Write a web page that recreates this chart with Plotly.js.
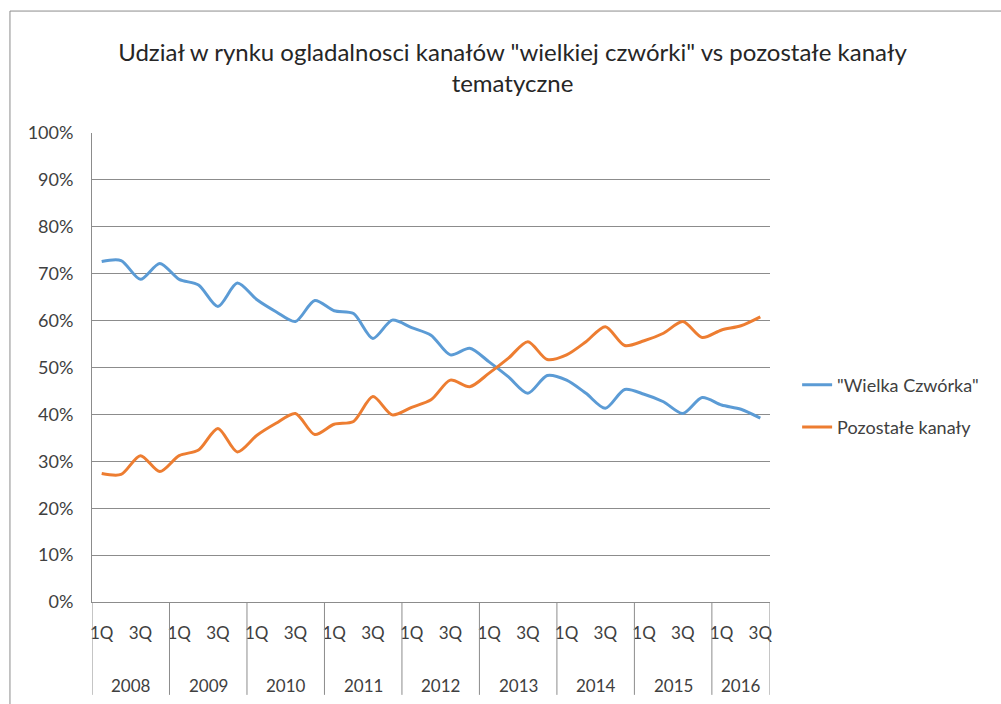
<!DOCTYPE html>
<html>
<head>
<meta charset="utf-8">
<script src="https://cdn.plot.ly/plotly-3.0.1.min.js"></script>
<style>html,body{margin:0;padding:0;background:#fff;}#chart{width:1001px;height:704px;}</style>
</head>
<body>
<div id="chart"></div>
<script>
// ---- data ----
const years = [2008, 2009, 2010, 2011, 2012, 2013, 2014, 2015, 2016];
const quarters = ['1Q', '2Q', '3Q', '4Q'];
const quartersPerYear = [4, 4, 4, 4, 4, 4, 4, 4, 3];
const shownQuarters = ['1Q', '3Q'];
const seriesNames = ['"Wielka Czwórka"', 'Pozostałe kanały'];
const wielkaCzworka = [72.6, 72.8, 68.8, 72.2, 68.8, 67.6, 63.0, 68.0, 64.5, 61.9, 59.8, 64.3, 62.1, 61.5, 56.2, 60.1, 58.5, 56.9, 52.7, 54.1, 51.2, 48.0, 44.5, 48.3, 47.3, 44.5, 41.3, 45.3, 44.3, 42.7, 40.2, 43.6, 42.0, 41.1, 39.2];
const pozostale   = [27.4, 27.2, 31.2, 27.8, 31.2, 32.4, 37.0, 32.0, 35.5, 38.1, 40.2, 35.7, 37.9, 38.5, 43.8, 39.9, 41.5, 43.1, 47.3, 45.9, 48.8, 52.0, 55.5, 51.7, 52.7, 55.5, 58.7, 54.7, 55.7, 57.3, 59.8, 56.4, 58.0, 58.9, 60.8];
const titleText = 'Udział w rynku ogladalnosci kanałów "wielkiej czwórki" vs pozostałe kanały<br>tematyczne';

// ---- build category positions ----
const xIdx = [], qLabels = [];
let k = 0;
years.forEach((y, yi) => {
  for (let q = 0; q < quartersPerYear[yi]; q++) { xIdx.push(k); qLabels.push(quarters[q]); k++; }
});
const tickvals = [], ticktext = [];
xIdx.forEach((i) => { if (shownQuarters.includes(qLabels[i])) { tickvals.push(i); ticktext.push(qLabels[i]); } });

const FONT = 'Lato, "Open Sans", sans-serif';
const gridCol = '#8c8c8c';

const shapes = [];
const annotations = [];
let start = 0;
const bounds = [-0.5];
years.forEach((y, yi) => {
  const n = quartersPerYear[yi];
  annotations.push({x: start + (n - 1) / 2, xref: 'x', y: -0.179, yref: 'paper', text: String(y), showarrow: false,
    xanchor: 'center', yanchor: 'middle', font: {family: FONT, size: 17, color: '#404040'}});
  start += n;
  bounds.push(start - 0.5);
});
bounds.forEach(b => shapes.push({type: 'line', xref: 'x', yref: 'paper', x0: b, x1: b, y0: 0, y1: -0.198,
  line: {color: gridCol, width: 1}}));
// chart frame
shapes.push({type: 'rect', xref: 'paper', yref: 'paper', x0: -0.121, x1: 1.36, y0: -0.25, y1: 1.26,
  line: {color: '#8c8c8c', width: 1}, fillcolor: 'rgba(0,0,0,0)'});

const traces = [
  {x: xIdx, y: wielkaCzworka, name: seriesNames[0], type: 'scatter', mode: 'lines', legendgroup: 'a',
   line: {color: '#5B9BD5', width: 3, shape: 'spline', smoothing: 0.8}},
  {x: xIdx, y: pozostale, name: seriesNames[1], type: 'scatter', mode: 'lines', legendgroup: 'b',
   line: {color: '#ED7D31', width: 3, shape: 'spline', smoothing: 0.8}}
];

const layout = {
  width: 1001, height: 704,
  margin: {l: 92, r: 231, t: 133, b: 102},
  paper_bgcolor: '#fff', plot_bgcolor: '#fff',
  font: {family: FONT, color: '#404040'},
  title: {text: titleText, font: {family: FONT, size: 24, color: '#262626'},
          xref: 'container', x: 0.512, yref: 'container', y: 0.914, yanchor: 'middle', xanchor: 'center'},
  xaxis: {type: 'linear', range: [-0.5, 34.5], tickvals: tickvals, ticktext: ticktext, showgrid: false,
          zeroline: false, showline: true, linecolor: gridCol, linewidth: 1, ticks: '', ticklabelstandoff: 16,
          tickfont: {family: FONT, size: 17, color: '#404040'}, fixedrange: true},
  yaxis: {range: [0, 100], dtick: 10, ticksuffix: '%', showgrid: true, gridcolor: gridCol, gridwidth: 1,
          zeroline: false, showline: true, linecolor: gridCol, linewidth: 1, ticks: '', ticklabelstandoff: 14,
          tickfont: {family: FONT, size: 18, color: '#404040'}, fixedrange: true},
  showlegend: true,
  legend: {x: 1.04, xanchor: 'left', y: 0.418, yanchor: 'middle', traceorder: 'grouped', tracegroupgap: 16,
           font: {family: FONT, size: 18, color: '#404040'}, bgcolor: 'rgba(0,0,0,0)'},
  shapes: shapes,
  annotations: annotations
};

Plotly.newPlot('chart', traces, layout, {staticPlot: true, displayModeBar: false});
</script>
</body>
</html>
